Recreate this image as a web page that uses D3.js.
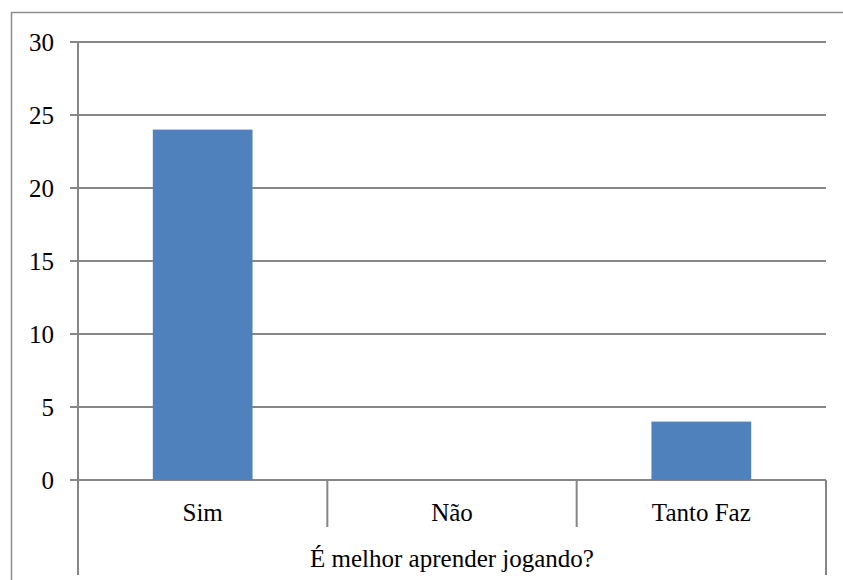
<!DOCTYPE html>
<html lang="pt">
<head>
    <meta charset="UTF-8">
    <script src="https://d3js.org/d3.v7.min.js"></script>
    <style>
        body { margin: 0; background: #fff; }
        .lbl { font-family: "Liberation Serif", "DejaVu Serif", serif; font-size: 25px; fill: #000; }
    </style>
</head>
<body>
<svg id="viz" width="843" height="580"></svg>
<script>
    // data
    var categories = ["Sim", "Não", "Tanto Faz"];
    var values = [24, 0, 4];
    var yTicks = [0, 5, 10, 15, 20, 25, 30];
    var groupLabel = "É melhor aprender jogando?";

    var svg = d3.select("#viz");
    var plotLeft = 78, plotRight = 826, plotTop = 42, plotBottom = 480;

    // outer chart border
    svg.append("rect")
        .attr("x", 11.5).attr("y", 12.5)
        .attr("width", 850).attr("height", 600)
        .attr("fill", "none").attr("stroke", "#8c8c8c").attr("stroke-width", 1.5);

    var x = d3.scaleBand().domain(categories).range([plotLeft, plotRight]).paddingInner(0.6).paddingOuter(0.3);
    var xb = d3.scaleBand().domain(categories).range([plotLeft, plotRight]);
    var y = d3.scaleLinear().domain([0, 30]).range([plotBottom, plotTop]);

    // gridlines + ticks
    svg.append("g")
        .selectAll("line")
        .data(yTicks)
        .enter().append("line")
        .attr("x1", plotLeft - 8).attr("x2", plotRight)
        .attr("y1", function(d) { return y(d); })
        .attr("y2", function(d) { return y(d); })
        .attr("stroke", "#868686").attr("stroke-width", 2);

    svg.append("g")
        .selectAll("text")
        .data(yTicks)
        .enter().append("text")
        .attr("class", "lbl")
        .attr("x", 54).attr("y", function(d) { return y(d); })
        .attr("dy", "0.35em")
        .attr("text-anchor", "end")
        .text(function(d) { return d; });

    // bars
    svg.append("g")
        .selectAll("rect")
        .data(values)
        .enter().append("rect")
        .attr("x", function(d, i) { return x(categories[i]); })
        .attr("y", function(d) { return y(d); })
        .attr("width", x.bandwidth())
        .attr("height", function(d) { return plotBottom - y(d); })
        .attr("fill", "#4f81bd");

    // left axis line (runs down through the category area)
    svg.append("line")
        .attr("x1", plotLeft).attr("x2", plotLeft)
        .attr("y1", plotTop).attr("y2", 575)
        .attr("stroke", "#868686").attr("stroke-width", 2);

    // category separators
    svg.append("g")
        .selectAll("line")
        .data(categories.slice(1))
        .enter().append("line")
        .attr("x1", function(d) { return xb(d); })
        .attr("x2", function(d) { return xb(d); })
        .attr("y1", plotBottom).attr("y2", 527)
        .attr("stroke", "#868686").attr("stroke-width", 2);

    svg.append("line")
        .attr("x1", plotRight).attr("x2", plotRight)
        .attr("y1", plotBottom).attr("y2", 575)
        .attr("stroke", "#868686").attr("stroke-width", 2);

    // category labels
    svg.append("g")
        .selectAll("text")
        .data(categories)
        .enter().append("text")
        .attr("class", "lbl")
        .attr("x", function(d) { return xb(d) + xb.bandwidth() / 2; })
        .attr("y", 521)
        .attr("text-anchor", "middle")
        .text(function(d) { return d; });

    svg.append("text")
        .attr("class", "lbl")
        .attr("x", (plotLeft + plotRight) / 2).attr("y", 567)
        .attr("text-anchor", "middle")
        .text(groupLabel);
</script>
</body>
</html>
